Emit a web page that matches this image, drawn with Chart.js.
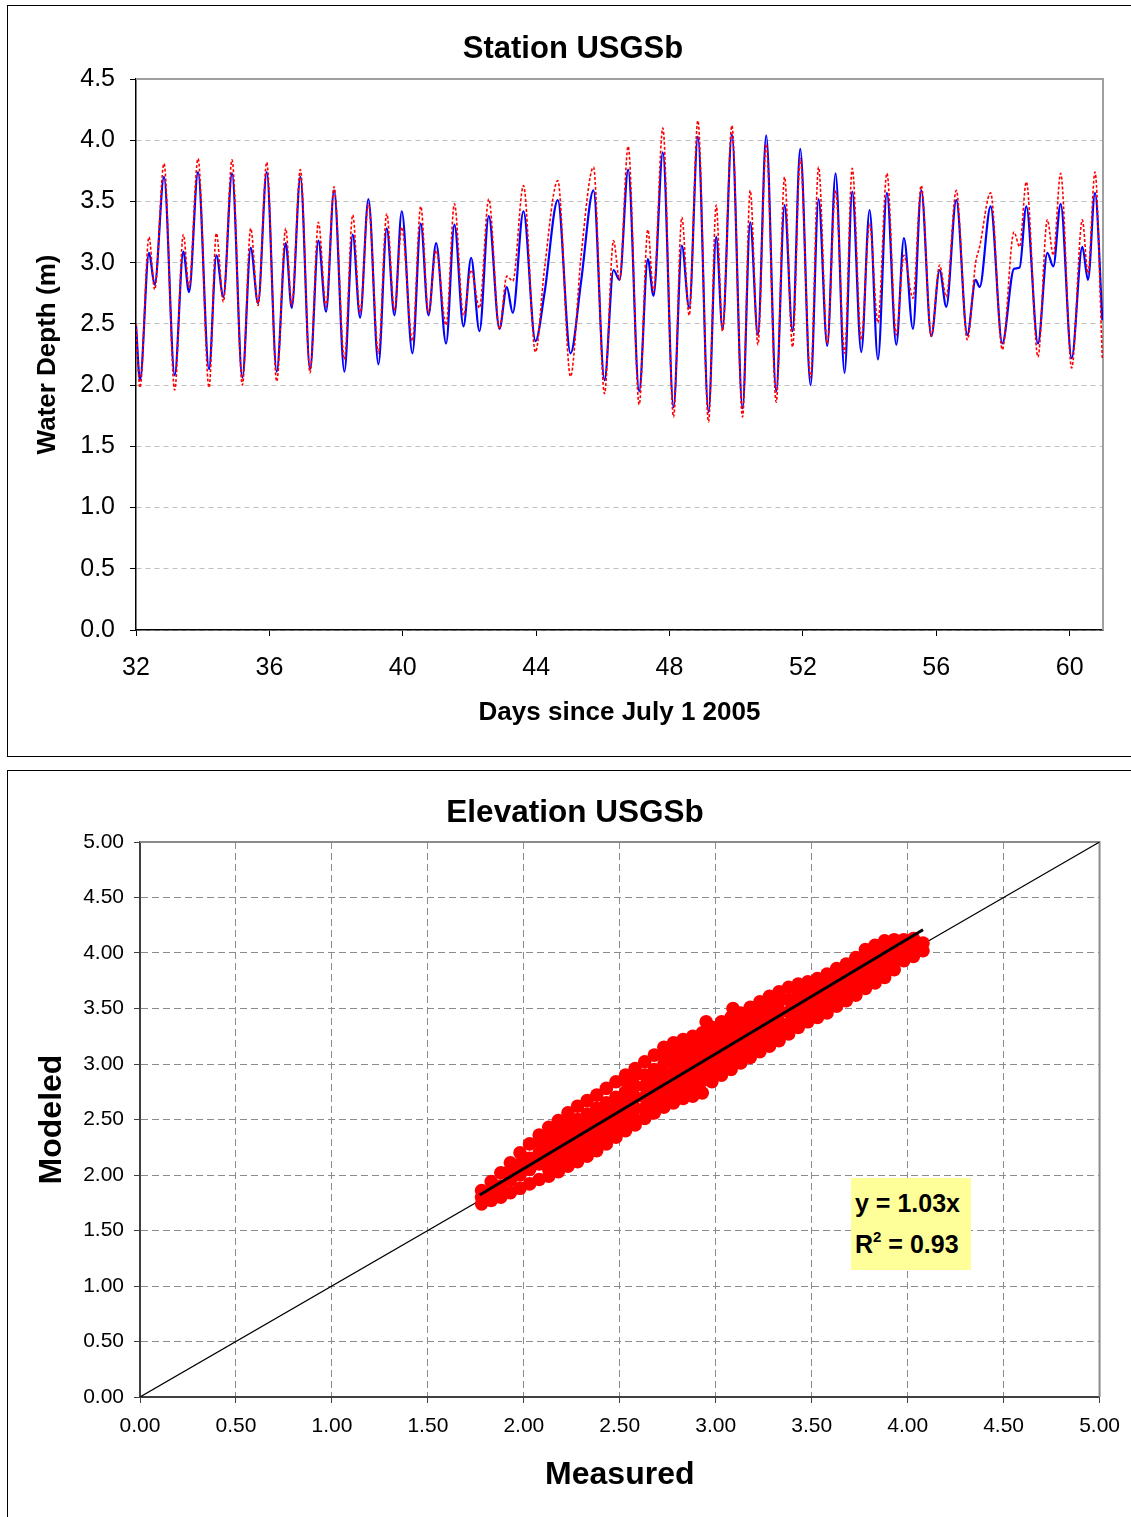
<!DOCTYPE html>
<html><head><meta charset="utf-8">
<script src="https://cdn.jsdelivr.net/npm/chart.js@4.4.1/dist/chart.umd.min.js"></script>
<style>
html,body{margin:0;padding:0;background:#fff;width:1131px;height:1517px;overflow:hidden;position:relative;}
.frame{position:absolute;border:1px solid #000;box-sizing:border-box;}
canvas{position:absolute;left:0;}
#eq{position:absolute;left:851px;top:1178px;width:120px;height:92px;background:#ffff99;font-family:"Liberation Sans",Arial,sans-serif;font-weight:bold;font-size:25px;color:#000;}
#eq div{position:absolute;left:4px;line-height:30px;white-space:nowrap;}
#eq sup{font-size:15px;line-height:0;vertical-align:11px;}
</style></head>
<body>
<div class="frame" style="left:7px;top:5px;width:1140px;height:752px"></div>
<div class="frame" style="left:7px;top:770px;width:1140px;height:760px"></div>
<canvas id="c1" width="1131" height="762" style="top:0"></canvas>
<canvas id="c2" width="1131" height="755" style="top:762px"></canvas>
<div id="eq"><div style="top:10px">y = 1.03x</div><div style="top:51px">R<sup>2</sup> = 0.93</div></div>
<script>
// ---- Time series (turning points) ----
const days = [32.00,32.12,32.39,32.56,32.84,33.16,33.42,33.59,33.86,34.19,
34.41,34.62,34.88,35.19,35.44,35.66,35.92,36.22,36.49,36.67,
36.93,37.22,37.47,37.70,37.94,38.25,38.50,38.72,38.97,39.27,
39.52,39.75,39.97,40.29,40.54,40.77,41.00,41.30,41.55,41.82,
42.05,42.30,42.58,42.90,43.12,43.30,43.62,43.98,44.25,44.65,
45.03,45.35,45.72,46.05,46.32,46.50,46.76,47.09,47.35,47.52,
47.80,48.12,48.37,48.59,48.85,49.17,49.40,49.59,49.87,50.19,
50.42,50.65,50.90,51.20,51.45,51.69,51.92,52.23,52.47,52.73,
52.98,53.25,53.48,53.75,54.00,54.25,54.52,54.80,55.03,55.30,
55.55,55.85,56.10,56.30,56.60,56.93,57.18,57.30,57.63,57.98,
58.33,58.50,58.70,59.05,59.33,59.51,59.73,60.06,60.38,60.55,
60.76,60.98];
const modeled = [2.49,2.04,3.08,2.82,3.70,2.08,3.09,2.76,3.74,2.13,
3.06,2.72,3.73,2.06,3.12,2.67,3.74,2.11,3.16,2.63,
3.70,2.13,3.18,2.60,3.59,2.11,3.23,2.55,3.52,2.17,
3.28,2.57,3.42,2.26,3.32,2.57,3.16,2.34,3.31,2.48,
3.04,2.44,3.38,2.46,2.80,2.59,3.42,2.36,2.75,3.51,
2.26,2.85,3.59,2.04,2.94,2.86,3.76,1.95,3.03,2.73,
3.90,1.82,3.14,2.63,4.03,1.78,3.21,2.46,4.05,1.81,
3.33,2.41,4.04,1.95,3.47,2.44,3.93,2.00,3.52,2.32,
3.73,2.10,3.58,2.27,3.43,2.21,3.57,2.33,3.20,2.46,
3.59,2.40,2.94,2.64,3.51,2.41,2.86,2.80,3.46,2.34,
2.95,2.96,3.46,2.34,3.08,2.97,3.48,2.22,3.13,2.86,
3.57,2.53];
const measured = [2.50,1.98,3.21,2.78,3.81,1.96,3.23,2.80,3.85,1.98,
3.24,2.68,3.84,2.00,3.28,2.65,3.82,2.03,3.28,2.65,
3.76,2.10,3.33,2.64,3.62,2.21,3.39,2.59,3.48,2.26,
3.40,2.61,3.29,2.36,3.46,2.59,3.10,2.49,3.48,2.57,
2.94,2.63,3.52,2.46,2.89,2.85,3.63,2.27,2.95,3.67,
2.07,3.06,3.78,1.93,3.18,2.86,3.95,1.84,3.27,2.76,
4.10,1.74,3.37,2.57,4.16,1.70,3.47,2.44,4.12,1.74,
3.59,2.33,3.97,1.86,3.70,2.31,3.85,2.06,3.78,2.34,
3.59,2.26,3.77,2.37,3.32,2.51,3.73,2.41,3.06,2.71,
3.63,2.40,2.98,2.72,3.59,2.37,3.00,3.13,3.57,2.29,
3.25,3.13,3.66,2.23,3.35,3.06,3.73,2.14,3.35,2.91,
3.74,2.21];
const dayTicks = [32,36,40,44,48,52,56,60];

// ---- Scatter cloud (measured x, modeled y), read column by column ----
const bandMeasured = [1.78,1.83,1.88,1.93,1.98,2.03,2.08,2.13,2.18,2.23,
2.28,2.33,2.38,2.43,2.48,2.53,2.58,2.63,2.68,2.73,
2.78,2.83,2.88,2.93,2.98,3.03,3.08,3.13,3.18,3.23,
3.28,3.33,3.38,3.43,3.48,3.53,3.58,3.63,3.68,3.73,
3.78,3.83,3.88,3.93,3.98,4.03,4.08];
const bandModeled = [
[1.74,1.80,1.86],[1.77,1.85,1.94],[1.80,1.90,2.02],[1.84,1.95,2.05,2.11],[1.88,2.00,2.10,2.20],
[1.92,2.05,2.15,2.28],[1.96,2.10,2.20,2.30,2.36],[1.99,2.05,2.15,2.25,2.35,2.43],[2.03,2.10,2.20,2.30,2.40,2.49],[2.08,2.15,2.25,2.35,2.45,2.56],
[2.12,2.20,2.30,2.40,2.50,2.62],[2.17,2.25,2.35,2.45,2.55,2.67],[2.22,2.30,2.40,2.50,2.60,2.72],[2.28,2.35,2.45,2.55,2.65,2.78],[2.34,2.40,2.50,2.60,2.70,2.84],
[2.40,2.45,2.55,2.65,2.75,2.85,2.90],[2.45,2.50,2.60,2.70,2.80,2.90,2.96],[2.51,2.60,2.70,2.80,2.90,3.02],[2.56,2.65,2.75,2.85,2.95,3.08],[2.61,2.70,2.80,2.90,3.00,3.08,3.15],
[2.65,2.72,2.82,2.92,3.02,3.12,3.19],[2.69,2.77,2.87,2.97,3.07,3.16,3.22],[2.71,2.80,2.90,3.00,3.10,3.20,3.25],[2.74,2.85,2.95,3.05,3.15,3.22,3.28],[2.84,2.92,3.02,3.12,3.22,3.33],
[2.90,2.97,3.07,3.17,3.27,3.38],[2.95,3.02,3.12,3.22,3.32,3.42],[3.01,3.09,3.19,3.28,3.37,3.46],[3.06,3.14,3.23,3.33,3.42,3.51],[3.11,3.19,3.28,3.38,3.47,3.56],
[3.16,3.24,3.34,3.43,3.52,3.61],[3.21,3.29,3.38,3.47,3.56,3.65],[3.27,3.36,3.47,3.58,3.69],[3.33,3.42,3.52,3.62,3.72],[3.38,3.47,3.56,3.65,3.74],
[3.42,3.51,3.60,3.69,3.77],[3.46,3.55,3.64,3.73,3.81],[3.52,3.60,3.69,3.78,3.86],[3.57,3.65,3.74,3.82,3.90],[3.62,3.71,3.79,3.88,3.96],
[3.68,3.77,3.86,3.95,4.03],[3.73,3.82,3.90,3.99,4.07],[3.78,3.87,3.95,4.03,4.11],[3.85,3.94,4.03,4.12],[3.93,4.02,4.12],
[3.97,4.05,4.13],[4.02,4.09]];
const outlierMeasured = [2.95,3.09];
const outlierModeled = [3.38,3.50];
const fitMeasured = [1.77,4.08];
const fitModeled = [1.82,4.21];
const identityLine = [0,5];

const FONT = '"Liberation Sans", Arial, sans-serif';
Chart.defaults.font.family = FONT;
Chart.defaults.color = '#000';

const plotFrame = {
  id: 'plotFrame',
  beforeDatasetsDraw(chart, args, opts) {
    const {ctx, chartArea: a} = chart;
    ctx.save();
    ctx.strokeStyle = opts.color; ctx.lineWidth = opts.width;
    ctx.beginPath();
    ctx.moveTo(a.left, a.top); ctx.lineTo(a.right, a.top); ctx.lineTo(a.right, a.bottom);
    ctx.stroke();
    ctx.restore();
  }
};

// ---- Chart 1: time series ----
const measPts = days.map((d, i) => ({x: d, y: measured[i]}));
const modPts = days.map((d, i) => ({x: d, y: modeled[i]}));

new Chart(document.getElementById('c1'), {
  type: 'line',
  data: {
    datasets: [
      {label: 'Measured', data: measPts, borderColor: '#ff0000', borderWidth: 1.6, borderDash: [3, 2],
       pointRadius: 0, cubicInterpolationMode: 'monotone', fill: false},
      {label: 'Modeled', data: modPts, borderColor: '#0000ff', borderWidth: 2.2,
       pointRadius: 0, cubicInterpolationMode: 'monotone', fill: false}
    ]
  },
  plugins: [plotFrame],
  options: {
    responsive: false, animation: false, devicePixelRatio: 1,
    layout: {padding: {top: 0, left: 43, right: 28, bottom: 0}},
    plugins: {
      legend: {display: false}, tooltip: {enabled: false},
      title: {display: true, text: 'Station USGSb', color: '#000',
        font: {size: 31, weight: 'bold', lineHeight: 1.2}, padding: {top: 31, bottom: 10.8}},
      plotFrame: {color: '#a0a0a0', width: 2}
    },
    scales: {
      x: {
        type: 'linear', min: 32, max: 61,
        afterFit(s) { s.height = 132; },
        afterBuildTicks(s) { s.ticks = dayTicks.map(v => ({value: v})); },
        ticks: {font: {size: 25}, padding: 17, color: '#000', callback: v => String(v)},
        grid: {drawOnChartArea: false, drawTicks: true, tickLength: 6, tickColor: '#000'},
        border: {display: true, color: '#000', width: 1.5},
        title: {display: true, text: 'Days since July 1 2005', color: '#000',
          font: {size: 26, weight: 'bold', lineHeight: 1.2}, padding: {top: 0, bottom: 34}}
      },
      y: {
        min: 0, max: 4.5,
        afterFit(s) { s.width = 93; },
        ticks: {stepSize: 0.5, font: {size: 25}, padding: 15, color: '#000', callback: v => Number(v).toFixed(1)},
        grid: {color: '#c0c0c0', lineWidth: 1, drawTicks: true, tickLength: 6, tickColor: '#000'},
        border: {display: true, color: '#000', width: 1.5, dash: [5, 4]},
        title: {display: true, text: 'Water Depth (m)', color: '#000',
          font: {size: 26, weight: 'bold', lineHeight: 1.2}, padding: {top: -10.6, bottom: 0}}
      }
    }
  }
});

// ---- Chart 2: scatter ----
const cloud = [];
bandMeasured.forEach((mx, i) => bandModeled[i].forEach(my => cloud.push({x: mx, y: my})));
outlierMeasured.forEach((mx, i) => cloud.push({x: mx, y: outlierModeled[i]}));
const fitPts = fitMeasured.map((v, i) => ({x: v, y: fitModeled[i]}));
const idPts = identityLine.map(v => ({x: v, y: v}));

new Chart(document.getElementById('c2'), {
  type: 'scatter',
  data: {
    datasets: [
      {label: 'Fit', data: fitPts, showLine: true, borderColor: '#000', borderWidth: 3, pointRadius: 0},
      {label: 'Points', data: cloud, backgroundColor: '#ff0000', borderWidth: 0, pointRadius: 6.8, pointHoverRadius: 6.8},
      {label: '1:1', data: idPts, showLine: true, borderColor: '#000', borderWidth: 1.2, pointRadius: 0}
    ]
  },
  plugins: [plotFrame],
  options: {
    responsive: false, animation: false, devicePixelRatio: 1,
    layout: {padding: {top: 0, left: 50, right: 31, bottom: 0}},
    plugins: {
      legend: {display: false}, tooltip: {enabled: false},
      title: {display: true, text: 'Elevation USGSb', color: '#000',
        font: {size: 31.5, weight: 'bold', lineHeight: 1.2}, padding: {top: 32, bottom: 10.2}},
      plotFrame: {color: '#8a8a8a', width: 2}
    },
    scales: {
      x: {
        type: 'linear', min: 0, max: 5,
        afterFit(s) { s.height = 120; },
        ticks: {stepSize: 0.5, font: {size: 21}, padding: 11, color: '#000', callback: v => Number(v).toFixed(2)},
        grid: {color: '#8c8c8c', lineWidth: 1, drawTicks: true, tickLength: 6, tickColor: '#404040'},
        border: {display: true, color: '#404040', width: 2, dash: [7, 4]},
        title: {display: true, text: 'Measured', color: '#000',
          font: {size: 32, weight: 'bold', lineHeight: 1.2}, padding: {top: 0, bottom: 23}}
      },
      y: {
        type: 'linear', min: 0, max: 5,
        afterFit(s) { s.width = 90; },
        ticks: {stepSize: 0.5, font: {size: 21}, padding: 10, color: '#000', callback: v => Number(v).toFixed(2)},
        grid: {color: '#8c8c8c', lineWidth: 1, drawTicks: true, tickLength: 6, tickColor: '#404040'},
        border: {display: true, color: '#404040', width: 2, dash: [7, 4]},
        title: {display: true, text: 'Modeled', color: '#000',
          font: {size: 32, weight: 'bold', lineHeight: 1.2}, padding: {top: -17.2, bottom: 0}}
      }
    }
  }
});
</script>
</body></html>
